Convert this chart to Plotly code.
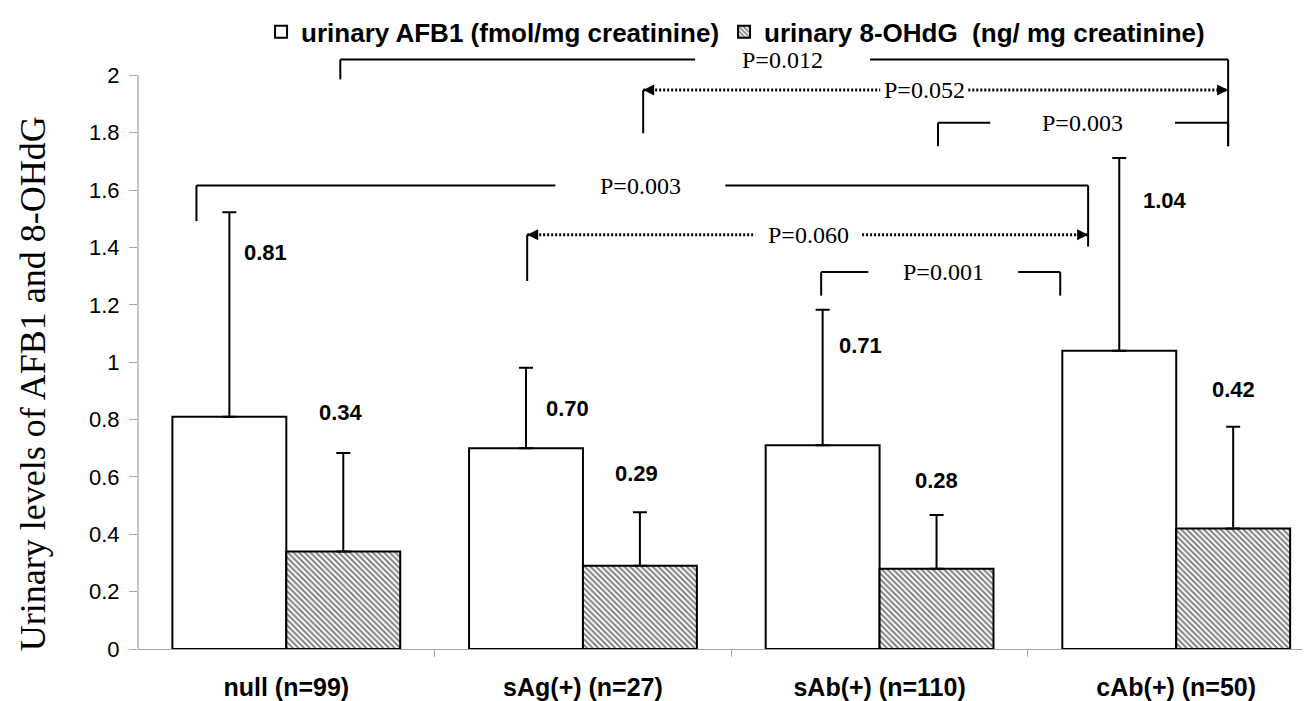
import plotly.graph_objects as go

# ---------------- data ----------------
categories = ["null (n=99)", "sAg(+) (n=27)", "sAb(+) (n=110)", "cAb(+) (n=50)"]
afb1_mean = [0.81, 0.70, 0.71, 1.04]
afb1_sd = [0.713, 0.281, 0.473, 0.672]
ohdg_mean = [0.34, 0.29, 0.28, 0.42]
ohdg_sd = [0.343, 0.187, 0.187, 0.355]
afb1_labels = ["0.81", "0.70", "0.71", "1.04"]
ohdg_labels = ["0.34", "0.29", "0.28", "0.42"]
y_tick_vals = [0, 0.2, 0.4, 0.6, 0.8, 1.0, 1.2, 1.4, 1.6, 1.8, 2.0]
y_tick_text = ["0", "0.2", "0.4", "0.6", "0.8", "1", "1.2", "1.4", "1.6", "1.8", "2"]
legend_names = ["urinary AFB1 (fmol/mg creatinine)", "urinary 8-OHdG\u00a0 (ng/ mg creatinine)"]

# significance brackets (P values)
p_labels = ["P=0.012", "P=0.052", "P=0.003", "P=0.003", "P=0.060", "P=0.001"]

# ---------------- layout constants (positions / styles) ----------------
x_pos = list(range(len(categories)))
afb1_label_pos = [(-0.069, 1.382), (0.947, 0.840), (1.935, 1.057), (2.963, 1.564)]
ohdg_label_pos = [(0.185, 0.823), (1.180, 0.611), (2.191, 0.587), (3.192, 0.906)]
br_x0 = [0.182, 1.203, 2.197, -0.303, 0.812, 1.803]
br_x1 = [3.175, 3.175, 3.175, 2.703, 2.703, 2.609]
br_y = [2.055, 1.949, 1.835, 1.616, 1.444, 1.314]
br_left_drop = [1.986, 1.798, 1.753, 1.492, 1.283, 1.232]
br_right_drop = [1.753, None, 1.753, 1.403, None, 1.232]
br_gap_l = [1.378, 2.002, 2.373, 0.907, 1.581, 1.962]
br_gap_r = [1.968, 2.299, 2.996, 1.480, 1.941, 2.467]
br_dotted = [False, True, False, False, True, False]

SANS = "Liberation Sans, Arial, sans-serif"
SERIF = "Liberation Serif, Times New Roman, serif"
AXIS_GRAY = "#a6a6a6"

fig = go.Figure()
fig.add_trace(go.Bar(
    x=x_pos, y=afb1_mean, name=legend_names[0],
    marker=dict(color="white", line=dict(color="black", width=2)),
    error_y=dict(type="data", array=afb1_sd, arrayminus=[0] * 4,
                 color="black", thickness=2, width=7),
))
fig.add_trace(go.Bar(
    x=x_pos, y=ohdg_mean, name=legend_names[1],
    marker=dict(color="white", line=dict(color="black", width=2),
                pattern=dict(shape="\\", fgcolor="black", bgcolor="white",
                             size=4, solidity=0.5)),
    error_y=dict(type="data", array=ohdg_sd, arrayminus=[0] * 4,
                 color="black", thickness=2, width=7),
))

annotations = []
# value labels
for (lx, ly), t in zip(afb1_label_pos, afb1_labels):
    annotations.append(dict(x=lx, y=ly, xref="x", yref="y", text=t, showarrow=False,
                            font=dict(family=SANS, size=22, color="black", weight="bold")))
for (lx, ly), t in zip(ohdg_label_pos, ohdg_labels):
    annotations.append(dict(x=lx, y=ly, xref="x", yref="y", text=t, showarrow=False,
                            font=dict(family=SANS, size=22, color="black", weight="bold")))

shapes = []
line_solid = dict(color="black", width=2)
line_dot = dict(color="black", width=3, dash="2px,2px")
for i in range(len(p_labels)):
    x0, x1, y = br_x0[i], br_x1[i], br_y[i]
    ln = line_dot if br_dotted[i] else line_solid
    shapes.append(dict(type="line", xref="x", yref="y", x0=x0, x1=br_gap_l[i], y0=y, y1=y, line=ln))
    shapes.append(dict(type="line", xref="x", yref="y", x0=br_gap_r[i], x1=x1, y0=y, y1=y, line=ln))
    shapes.append(dict(type="line", xref="x", yref="y", x0=x0, x1=x0, y0=y, y1=br_left_drop[i], line=line_solid))
    if br_right_drop[i] is not None:
        shapes.append(dict(type="line", xref="x", yref="y", x0=x1, x1=x1, y0=y, y1=br_right_drop[i], line=line_solid))
    annotations.append(dict(x=(br_gap_l[i] + br_gap_r[i]) / 2, y=y, xref="x", yref="y",
                            text=p_labels[i], showarrow=False,
                            font=dict(family=SERIF, size=24, color="black")))
    if br_dotted[i]:
        for tip, tail in ((x1, x1 - 0.02), (x0, x0 + 0.02)):
            annotations.append(dict(x=tip, y=y, ax=tail, ay=y, xref="x", yref="y",
                                    axref="x", ayref="y", text="", showarrow=True,
                                    arrowhead=2, arrowsize=1.1, arrowwidth=2,
                                    arrowcolor="black", standoff=0))

# y axis line (only up to 2)
shapes.append(dict(type="line", xref="paper", yref="y", x0=0, x1=0, y0=0, y1=2,
                   line=dict(color=AXIS_GRAY, width=1.3)))

# y axis title
annotations.append(dict(x=-0.09, y=0.925, xref="paper", yref="y",
                        xanchor="center", yanchor="middle",
                        text="Urinary levels of AFB1 and 8-OHdG", textangle=-90,
                        showarrow=False, font=dict(family=SERIF, size=36, color="black")))

fig.update_layout(
    width=1302, height=693, autosize=False,
    margin=dict(l=130, r=0, t=0, b=52),
    plot_bgcolor="white", paper_bgcolor="white",
    barmode="group", bargap=0.232, bargroupgap=0,
    showlegend=True,
    legend=dict(orientation="h", x=0.105, xanchor="left", y=0.978, yanchor="middle",
                bgcolor="rgba(0,0,0,0)", traceorder="normal",
                font=dict(family=SANS, size=26, color="black", weight="bold")),
    xaxis=dict(range=[-0.5, 3.451], tickmode="array", tickvals=x_pos, ticktext=categories,
               ticks="", showgrid=False, zeroline=False, showline=True,
               linecolor=AXIS_GRAY, linewidth=1.3, ticklabelstandoff=16,
               tickfont=dict(family=SANS, size=25, color="black", weight="bold"),
               minor=dict(tickmode="array", tickvals=[0.5, 1.5, 2.5], ticks="outside",
                          ticklen=7, tickcolor=AXIS_GRAY, tickwidth=1.3, showgrid=False)),
    yaxis=dict(range=[0, 2.2], tickmode="array", tickvals=y_tick_vals, ticktext=y_tick_text,
               ticks="outside", ticklen=8, tickcolor=AXIS_GRAY, tickwidth=1.3,
               showgrid=False, zeroline=False, showline=False, ticklabelstandoff=5,
               tickfont=dict(family=SANS, size=22, color="black")),
    shapes=shapes, annotations=annotations,
)

fig.write_html("out.html")
